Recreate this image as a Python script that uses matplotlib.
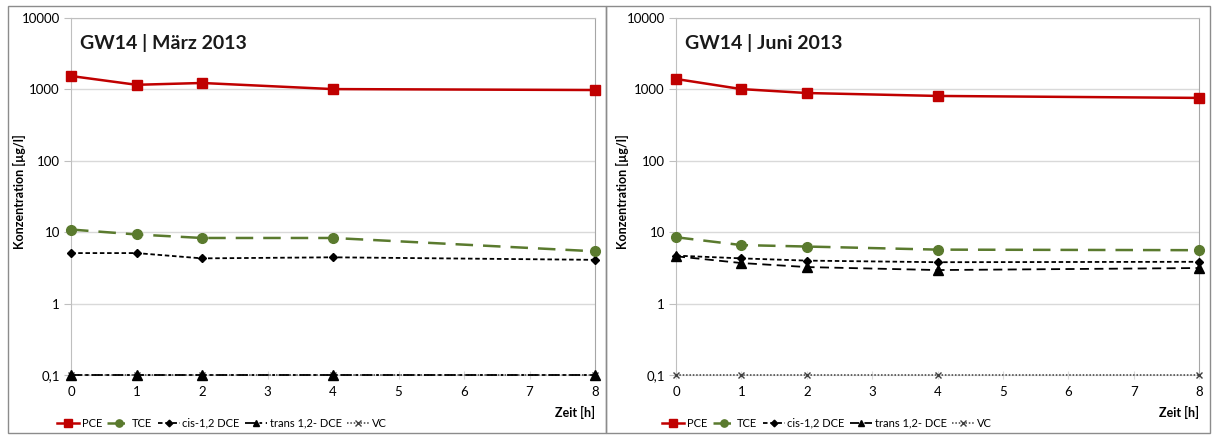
import matplotlib
matplotlib.use('Agg')
import matplotlib.pyplot as plt
from matplotlib.patches import Rectangle
from matplotlib.ticker import FixedLocator, FixedFormatter

# Zeitpunkte [h]
zeit = [0, 1, 2, 4, 8]

# GW14 Maerz 2013
maerz_pce = [1540, 1160, 1230, 1010, 980]
maerz_tce = [10.9, 9.3, 8.3, 8.3, 5.4]
maerz_cis = [5.1, 5.1, 4.3, 4.45, 4.1]
maerz_trans = [0.1, 0.1, 0.1, 0.1, 0.1]
maerz_vc = [0.1, 0.1, 0.1, 0.1, 0.1]

# GW14 Juni 2013
juni_pce = [1400, 1010, 890, 810, 760]
juni_tce = [8.5, 6.6, 6.3, 5.7, 5.6]
juni_cis = [4.7, 4.3, 4.0, 3.8, 3.85]
juni_trans = [4.6, 3.7, 3.25, 2.95, 3.15]
juni_vc = [0.1, 0.1, 0.1, 0.1, 0.1]

titles = ['GW14 | März 2013', 'GW14 | Juni 2013']
ytick_vals = [0.1, 1, 10, 100, 1000, 10000]
ytick_labels = ['0,1', '1', '10', '100', '1000', '10000']
xtick_vals = [0, 1, 2, 3, 4, 5, 6, 7, 8]

plt.rcParams['font.family'] = ['Lato', 'DejaVu Sans']

W, H = 1212, 437
fig = plt.figure(figsize=(W / 100, H / 100), dpi=100)

# Rahmen der beiden Diagramme
for x0, x1 in [(8, 606), (606, 1210)]:
    fig.patches.append(Rectangle((x0 / W, 1 - 433 / H), (x1 - x0) / W, (433 - 6) / H,
                                 transform=fig.transFigure, fill=False,
                                 edgecolor='#8c8c8c', linewidth=1.0))

panels = [
    (71, 595, 19, maerz_pce, maerz_tce, maerz_cis, maerz_trans, maerz_vc),
    (676, 1199, 622, juni_pce, juni_tce, juni_cis, juni_trans, juni_vc),
]

for i, (px0, px1, lab_x, pce, tce, cis, trans, vc) in enumerate(panels):
    top, bot = 18, 375
    ax = fig.add_axes([px0 / W, 1 - bot / H, (px1 - px0) / W, (bot - top) / H])
    ax.set_yscale('log')
    ax.set_xlim(0, 8)
    ax.set_ylim(0.1, 10000)

    ax.plot(zeit, vc, color='#404040', linestyle=(0, (1, 1.2)), linewidth=1.1,
            marker='x', markersize=5, markeredgecolor='#404040', label='VC',
            zorder=3, clip_on=False)
    ax.plot(zeit, trans, color='black',
            linestyle=(0, (6, 2, 1.5, 2)) if i == 0 else (0, (5, 3)),
            linewidth=1.3, marker='^', markersize=6.5, label='trans 1,2- DCE',
            zorder=4, clip_on=False)
    ax.plot(zeit, cis, color='black', linestyle=(0, (2.5, 1.5)), linewidth=1.3,
            marker='D', markersize=4.5, label='cis-1,2 DCE', zorder=5, clip_on=False)
    ax.plot(zeit, tce, color='#5a7a2e', linestyle=(0, (7, 4)), linewidth=1.8,
            marker='o', markersize=7, label='TCE', zorder=6, clip_on=False)
    ax.plot(zeit, pce, color='#c00000', linestyle='-', linewidth=1.8,
            marker='s', markersize=7, label='PCE', zorder=7, clip_on=False)

    ax.yaxis.set_major_locator(FixedLocator(ytick_vals))
    ax.yaxis.set_major_formatter(FixedFormatter(ytick_labels))
    ax.yaxis.set_minor_locator(FixedLocator([]))
    ax.set_xticks(xtick_vals)
    ax.grid(axis='y', color='#d9d9d9', linewidth=1.0, zorder=0)
    ax.set_axisbelow(True)

    for s in ['left', 'top']:
        ax.spines[s].set_color('#bfbfbf')
    ax.spines['right'].set_color('#a6a6a6')
    ax.spines['bottom'].set_color('#d9d9d9')
    ax.tick_params(axis='y', length=5, color='#bfbfbf', labelsize=9.5, pad=3)
    ax.tick_params(axis='x', direction='inout', length=6, color='#d9d9d9',
                   labelsize=9.5, pad=5)

    ax.text(0.018, 0.93, titles[i], transform=ax.transAxes, fontsize=14,
            fontweight='bold', va='center', ha='left', color='#1a1a1a')

    fig.text(lab_x / W, 1 - 192 / H, 'Konzentration [µg/l]', rotation=90,
             fontsize=9, fontweight='bold', ha='center', va='center')

    ax.text(1.0, -0.105, 'Zeit [h]', transform=ax.transAxes, fontsize=9,
            fontweight='bold', ha='right', va='center')

    handles, labels = ax.get_legend_handles_labels()
    order = ['PCE', 'TCE', 'cis-1,2 DCE', 'trans 1,2- DCE', 'VC']
    hmap = dict(zip(labels, handles))
    ax.legend([hmap[k] for k in order], order, loc='center left',
              bbox_to_anchor=(-0.035, -0.135), ncol=5, frameon=False,
              fontsize=8, handlelength=2.0, handletextpad=0.2, columnspacing=0.5,
              markerscale=0.75, borderaxespad=0)

fig.savefig('out.png', dpi=100)
